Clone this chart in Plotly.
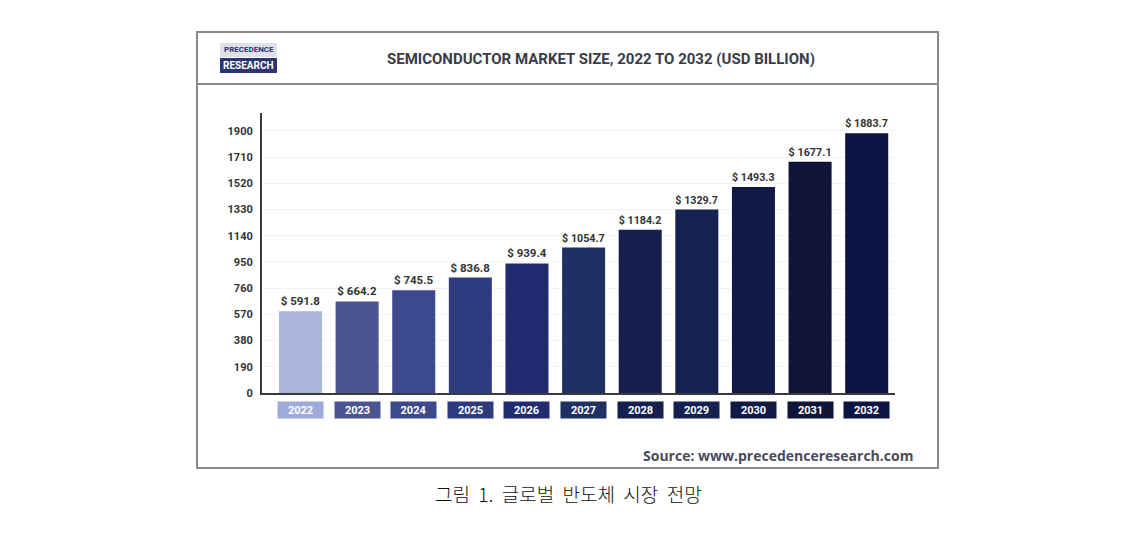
import plotly.graph_objects as go

years = ["2022", "2023", "2024", "2025", "2026", "2027", "2028", "2029", "2030", "2031", "2032"]
values = [591.8, 664.2, 745.5, 836.8, 939.4, 1054.7, 1184.2, 1329.7, 1493.3, 1677.1, 1883.7]
bar_colors = ["#aab5dd", "#4b5690", "#3c498c", "#2e3b7e", "#222b6f", "#1f3163",
              "#16204f", "#142252", "#111a47", "#0e1539", "#0c1443"]
box_colors = ["#9eabda", "#4b5690", "#3c498c", "#2e3b7e", "#222b6f", "#1f3163",
              "#16204f", "#142252", "#111a47", "#0e1539", "#0c1443"]
tick_vals = [0, 190, 380, 570, 760, 950, 1140, 1330, 1520, 1710, 1900]

W, H = 1137, 535
L, R, T, B = 262, 895, 113, 393
PW, PH = R - L, B - T

def px(x):
    return (x - L) / PW

def py(y):
    return (B - y) / PH

COND = "Roboto, Liberation Sans, sans-serif"

fig = go.Figure()
fig.add_trace(go.Bar(
    x=list(range(len(years))), y=values,
    marker=dict(color=bar_colors, line=dict(width=0)),
    text=["$ " + f"{v:.1f}" for v in values],
    textposition="outside",
    textfont=dict(family=COND, size=11.5, color="#333333", weight="bold"),
    cliponaxis=False,
    hoverinfo="skip",
))

annotations = []
for i, (yr, c) in enumerate(zip(years, box_colors)):
    annotations.append(dict(
        x=i, y=py(410), xref="x", yref="paper", text="<b>" + yr + "</b>",
        showarrow=False, bgcolor=c, width=45, height=16, borderpad=0,
        font=dict(family=COND, size=11, color="white"),
        xanchor="center", yanchor="middle",
    ))

annotations += [
    dict(x=px(601), y=py(59), xref="paper", yref="paper",
         text="<b>SEMICONDUCTOR MARKET SIZE, 2022 TO 2032 (USD BILLION)</b>",
         showarrow=False, font=dict(family=COND, size=15, color="#3a3b48"),
         xanchor="center", yanchor="middle"),
    dict(x=px(248.5), y=py(50), xref="paper", yref="paper", text="<b>PRECEDENCE</b>",
         showarrow=False, font=dict(family=COND, size=8, color="#2b3572"),
         xanchor="center", yanchor="middle"),
    dict(x=px(248.5), y=py(65.5), xref="paper", yref="paper", text="<b>RESEARCH</b>",
         showarrow=False, font=dict(family=COND, size=10, color="white"),
         xanchor="center", yanchor="middle"),
    dict(x=px(915), y=py(455), xref="paper", yref="paper",
         text="<b>Source: www.precedenceresearch.com</b>",
         showarrow=False, font=dict(family="Open Sans, sans-serif", size=14, color="#4a4b5c"),
         xanchor="right", yanchor="middle"),
    dict(x=px(568), y=py(493), xref="paper", yref="paper",
         text="그림  1.  글로벌  반도체  시장  전망",
         showarrow=False, font=dict(family="Noto Sans CJK KR", size=19, color="#111111", weight=300),
         xanchor="center", yanchor="middle"),
]

shapes = [
    dict(type="rect", xref="paper", yref="paper", x0=px(197), x1=px(938), y0=py(32), y1=py(468),
         line=dict(color="#8a8a8a", width=2), layer="below"),
    dict(type="line", xref="paper", yref="paper", x0=px(197), x1=px(938), y0=py(84), y1=py(84),
         line=dict(color="#8a8a8a", width=2)),
    dict(type="rect", xref="paper", yref="paper", x0=px(220), x1=px(277), y0=py(43), y1=py(57),
         fillcolor="#dfe0e8", line=dict(width=0), layer="below"),
    dict(type="rect", xref="paper", yref="paper", x0=px(220), x1=px(277), y0=py(58), y1=py(73),
         fillcolor="#2b3572", line=dict(width=0), layer="below"),
]

fig.update_layout(
    width=W, height=H,
    margin=dict(l=L, r=W - R, t=T, b=H - B, pad=0),
    paper_bgcolor="white", plot_bgcolor="white",
    showlegend=False, bargap=0.24,
    annotations=annotations, shapes=shapes,
    xaxis=dict(range=[-0.68, 10.5], showticklabels=False, showgrid=False, zeroline=False,
               showline=True, linecolor="#3a3a3a", linewidth=2, fixedrange=True),
    yaxis=dict(range=[0, 2030], tickvals=tick_vals, ticktext=[str(t) for t in tick_vals],
               showgrid=True, gridcolor="#f3f3f3", gridwidth=1, zeroline=False,
               showline=True, linecolor="#3a3a3a", linewidth=2,
               ticks="outside", ticklen=5, tickcolor="rgba(0,0,0,0)",
               tickfont=dict(family=COND, size=11, color="#333333", weight="bold"),
               fixedrange=True),
)

fig.write_html("out.html")
